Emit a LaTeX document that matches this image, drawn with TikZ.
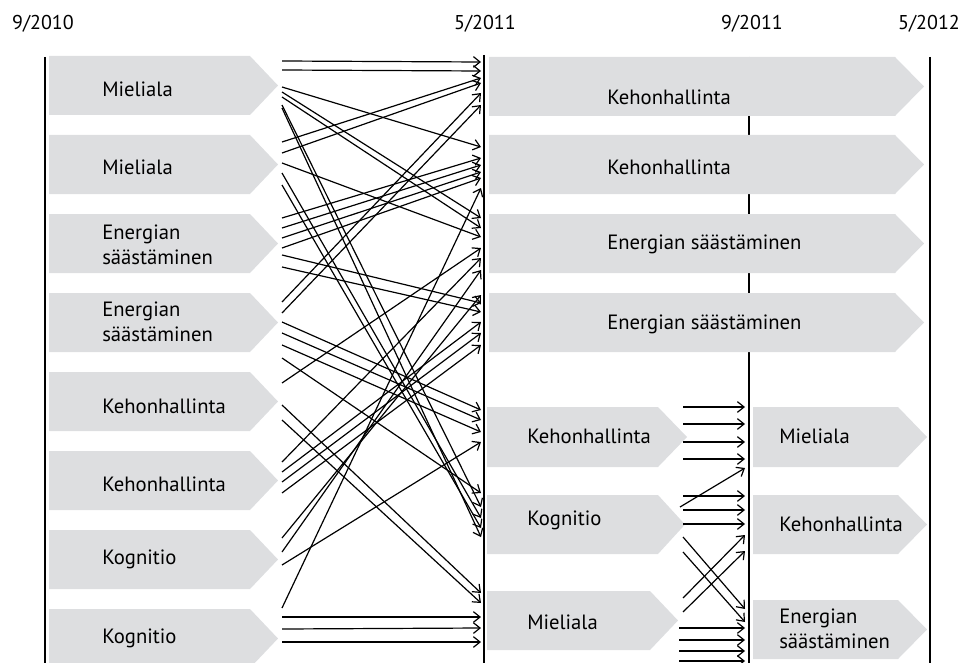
\documentclass[tikz,border=0pt]{standalone}
\usepackage{fontspec}
\setmainfont{PT Sans}
\usetikzlibrary{arrows.meta}
\definecolor{boxgray}{RGB}{221,222,224}
\tikzset{
  flow/.style={-{Straight Barb[length=5pt,width=8pt]},line width=0.9pt},
  axis/.style={line width=1.8pt},
  lab/.style={anchor=west,align=left,inner sep=0pt,font=\fontsize{15.5}{19}\selectfont},
  date/.style={inner sep=0pt,font=\fontsize{15}{18}\selectfont},
}
% chevron box: left x, end of rectangle, tip x, top y, bottom y
\newcommand{\chev}[5]{\fill[boxgray] (#1,#4) -- (#2,#4) -- (#3,{(#4+#5)/2}) -- (#2,#5) -- (#1,#5) -- cycle;}

\begin{document}
\begin{tikzpicture}[x=0.75pt,y=-0.75pt]
  \useasboundingbox (0,0) rectangle (966,663);

  % dates and time lines
  \node[date] (d1) at (43,24) {9/2010};
  \node[date] (d2) at (485,24) {5/2011};
  \node[date] (d3) at (752,24) {9/2011};
  \node[date] (d4) at (929,24) {5/2012};
  \draw[axis] (45,57) -- (45,663);
  \draw[axis] (484,55) -- (484,663);
  \draw[axis] (749,57) -- (749,663);
  \draw[axis] (930,57) -- (930,663);

  % first year groups
  \foreach \t/\dy/\txt [count=\i] in {56/33/Mieliala, 135/32/Mieliala,
      214/31/{Energian\\säästäminen}, 293/29/{Energian\\säästäminen},
      372/34/Kehonhallinta, 451/33/Kehonhallinta, 530/29/Kognitio, 609/29/Kognitio} {
    \chev{49}{250}{278}{\t}{\t+59}
    \node[lab] (l\i) at (102,\t+\dy) {\txt};
  }

  % second year, whole year groups
  \foreach \t/\dy/\txt [count=\i] in {57/40/Kehonhallinta, 135/32/Kehonhallinta,
      214/30/Energian säästäminen, 293/31/Energian säästäminen} {
    \chev{489}{895}{924}{\t}{\t+59}
    \node[lab] (r\i) at (607,\t+\dy) {\txt};
  }

  % second year, autumn groups
  \chev{487}{658}{687}{407}{467}
  \node[lab] (a1) at (527,436) {Kehonhallinta};
  \chev{487}{658}{685}{495}{554}
  \node[lab] (a2) at (527,520) {Kognitio};
  \chev{487}{650}{678}{591}{650}
  \node[lab] (a3) at (527,622) {Mieliala};

  % second year, spring groups
  \chev{753}{898}{927}{407}{467}
  \node[lab] (s1) at (779,436) {Mieliala};
  \chev{753}{898}{927}{495}{554}
  \node[lab] (s2) at (779,524) {Kehonhallinta};
  \chev{753}{898}{927}{600}{659}
  \node[lab] (s3) at (779,629) {Energian\\säästäminen};

  % moves 9/2010 -> 5/2011
  \foreach \a/\b [count=\i] in {61/62, 70/71, 87/147, 92/218, 97/228, 105/507, 108/537,
      142/78, 153/83, 163/237, 173/518, 185/528,
      218/158, 228/165, 238/172, 248/178, 255/303, 267/312,
      302/93, 313/105, 322/410, 333/420, 345/432,
      358/493, 383/248, 405/593, 420/603,
      462/258, 472/322, 482/333, 493/345,
      538/295, 552/270, 565/442,
      608/188, 617/617, 629/628, 642/642} {
    \coordinate (src\i) at (282,\a);
    \coordinate (dst\i) at (481,\b);
    \draw[flow] (src\i) -- (dst\i);
  }

  % moves 9/2011 -> 5/2012
  \foreach \x/\a/\b [count=\i] in {683/407/407, 683/424/424, 683/442/442, 683/459/459,
      680/507/468, 683/496/496, 683/510/510, 683/524/524,
      683/537/609, 683/552/622, 683/598/535, 683/612/551,
      679/628/628, 679/640/640, 679/651/651, 679/661/661} {
    \coordinate (u\i) at (\x,\a);
    \coordinate (v\i) at (745,\b);
    \draw[flow] (u\i) -- (v\i);
  }
\end{tikzpicture}
\end{document}
